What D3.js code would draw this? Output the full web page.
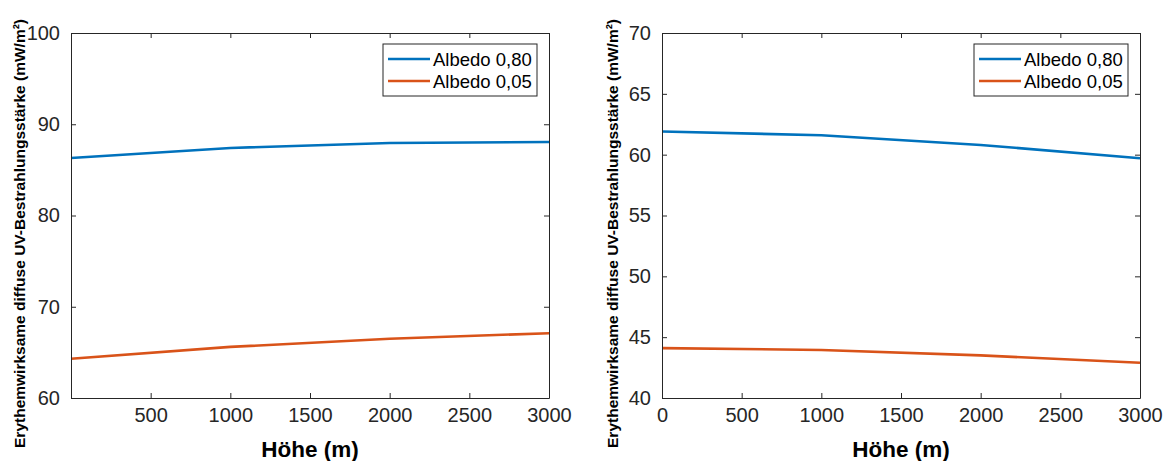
<!DOCTYPE html>
<html>
<head>
<meta charset="utf-8">
<script src="https://cdn.jsdelivr.net/npm/d3@7/dist/d3.min.js"></script>
<style>
  html, body { margin: 0; padding: 0; background: #fff; }
  svg { display: block; }
</style>
</head>
<body>
<svg id="chart" width="1167" height="461"></svg>
<script>
// Heights (m)
const heights = [0, 1000, 2000, 3000];

// Left panel: erythemal diffuse UV irradiance (mW/m²)
const leftAlbedo80 = [86.3, 87.4, 87.95, 88.05];
const leftAlbedo05 = [64.3, 65.6, 66.5, 67.1];

// Right panel
const rightAlbedo80 = [61.9, 61.6, 60.8, 59.7];
const rightAlbedo05 = [44.1, 43.95, 43.5, 42.9];

const seriesNames = ["Albedo 0,80", "Albedo 0,05"];
const seriesColors = ["#0072BD", "#D95319"];

const leftXTicks = [500, 1000, 1500, 2000, 2500, 3000];
const rightXTicks = [0, 500, 1000, 1500, 2000, 2500, 3000];
const leftYTicks = [60, 70, 80, 90, 100];
const rightYTicks = [40, 45, 50, 55, 60, 65, 70];

const xTitle = "Höhe (m)";
const yTitle = "Erythemwirksame diffuse UV-Bestrahlungsstärke (mW/m²)";

const svg = d3.select("#chart");
const FONT = "'Liberation Sans', Arial, Helvetica, sans-serif";
const AXIS_COLOR = "#262626";

function panel(opts) {
  const { left, top, width, height, yDomain, xTicks, yTicks, series } = opts;
  const g = svg.append("g").attr("transform", `translate(${left},${top})`);
  const x = d3.scaleLinear().domain([0, 3000]).range([0, width]);
  const y = d3.scaleLinear().domain(yDomain).range([height, 0]);

  // data lines
  const line = d3.line().x((d, i) => x(heights[i])).y(d => y(d));
  series.forEach((vals, k) => {
    g.append("path")
      .datum(vals)
      .attr("fill", "none")
      .attr("stroke", seriesColors[k])
      .attr("stroke-width", 2.6)
      .attr("stroke-linejoin", "round")
      .attr("d", line);
  });

  // axes (ticks inward, mirrored on top/right)
  const tickLen = 5;
  const bottom = g.append("g").attr("transform", `translate(0,${height})`)
    .call(d3.axisBottom(x).tickValues(xTicks).tickFormat(d3.format("d"))
      .tickSizeInner(-tickLen).tickSizeOuter(0).tickPadding(10));
  const topAx = g.append("g")
    .call(d3.axisTop(x).tickValues(xTicks).tickFormat("")
      .tickSizeInner(-tickLen).tickSizeOuter(0));
  const leftAx = g.append("g")
    .call(d3.axisLeft(y).tickValues(yTicks).tickFormat(d3.format("d"))
      .tickSizeInner(-tickLen).tickSizeOuter(0).tickPadding(11));
  const rightAx = g.append("g").attr("transform", `translate(${width},0)`)
    .call(d3.axisRight(y).tickValues(yTicks).tickFormat("")
      .tickSizeInner(-tickLen).tickSizeOuter(0));

  [bottom, topAx, leftAx, rightAx].forEach(a => {
    a.select(".domain").attr("stroke", AXIS_COLOR).attr("stroke-width", 1);
    a.selectAll(".tick line").attr("stroke", AXIS_COLOR).attr("stroke-width", 1);
    a.selectAll(".tick text")
      .attr("fill", AXIS_COLOR)
      .style("font-family", FONT)
      .style("font-size", "20px");
  });

  // x title
  g.append("text")
    .attr("x", width / 2)
    .attr("y", height + 59)
    .attr("text-anchor", "middle")
    .style("font-family", FONT)
    .style("font-size", "22.5px")
    .style("font-weight", "bold")
    .attr("fill", "#000")
    .text(xTitle);

  // y title
  g.append("text")
    .attr("transform", `translate(${opts.yTitleX},${height / 2 + 18}) rotate(-90)`)
    .attr("text-anchor", "middle")
    .style("font-family", FONT)
    .style("font-size", "15.5px")
    .style("font-weight", "bold")
    .attr("fill", "#000")
    .text(yTitle);

  // legend
  const lgW = 154, lgH = 52;
  const lg = g.append("g").attr("transform", `translate(${width - 12 - lgW},${11})`);
  lg.append("rect")
    .attr("width", lgW).attr("height", lgH)
    .attr("fill", "#fff")
    .attr("stroke", AXIS_COLOR).attr("stroke-width", 1);
  seriesNames.forEach((name, k) => {
    const ly = 15 + k * 22;
    lg.append("line")
      .attr("x1", 5).attr("x2", 47)
      .attr("y1", ly).attr("y2", ly)
      .attr("stroke", seriesColors[k]).attr("stroke-width", 2.6);
    lg.append("text")
      .attr("x", 50).attr("y", ly)
      .attr("dy", "0.36em")
      .style("font-family", FONT)
      .style("font-size", "18.5px")
      .attr("fill", "#000")
      .text(name);
  });
}

panel({
  left: 71, top: 33, width: 478, height: 365,
  yDomain: [60, 100], xTicks: leftXTicks, yTicks: leftYTicks,
  series: [leftAlbedo80, leftAlbedo05], yTitleX: -46
});

panel({
  left: 662, top: 33, width: 478, height: 365,
  yDomain: [40, 70], xTicks: rightXTicks, yTicks: rightYTicks,
  series: [rightAlbedo80, rightAlbedo05], yTitleX: -44
});
</script>
</body>
</html>
